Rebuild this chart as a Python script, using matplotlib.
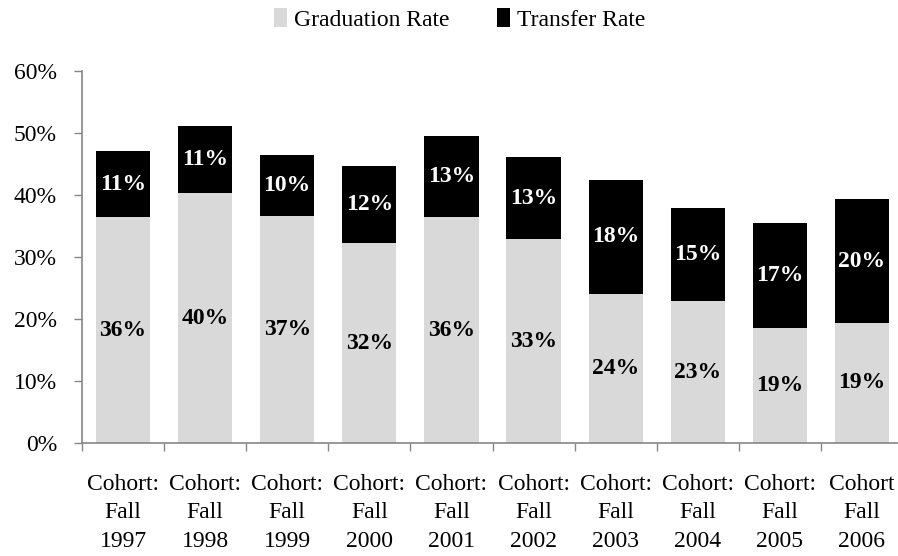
import matplotlib.pyplot as plt

cohorts = ["Cohort:\nFall\n1997", "Cohort:\nFall\n1998", "Cohort:\nFall\n1999",
           "Cohort:\nFall\n2000", "Cohort:\nFall\n2001", "Cohort:\nFall\n2002",
           "Cohort:\nFall\n2003", "Cohort:\nFall\n2004", "Cohort:\nFall\n2005",
           "Cohort\nFall\n2006"]
graduation = [36.4, 40.3, 36.6, 32.3, 36.4, 32.9, 24.1, 22.9, 18.6, 19.4]
transfer = [10.7, 10.9, 9.8, 12.4, 13.1, 13.2, 18.4, 15.1, 16.9, 19.9]
yticks = [0, 10, 20, 30, 40, 50, 60]

plt.rcParams["font.family"] = ["Liberation Serif", "DejaVu Serif"]
axis_grey = "#868686"

fig = plt.figure(figsize=(8.98, 5.56), dpi=100)
ax = fig.add_axes([0.0913, 0.203, 0.9143, 0.669])

x = list(range(len(cohorts)))
b1 = ax.bar(x, graduation, width=0.66, color="#d9d9d9", label="Graduation Rate")
b2 = ax.bar(x, transfer, width=0.66, bottom=graduation, color="black",
            label="Transfer Rate")

ax.bar_label(b1, labels=[f"{v:.0f}%" for v in graduation], label_type="center",
             fontsize=17, fontweight="bold", color="black")
ax.bar_label(b2, labels=[f"{v:.0f}%" for v in transfer], label_type="center",
             fontsize=17, fontweight="bold", color="white")

ax.set_xlim(-0.5, len(cohorts) - 0.5)
ax.set_ylim(0, 60)
ax.set_yticks(yticks)
ax.set_yticklabels([f"{t}%" for t in yticks], fontsize=17)

# ticks at category boundaries, labels at centres
ax.set_xticks([i - 0.5 for i in range(len(cohorts) + 1)])
ax.set_xticklabels([])
ax.set_xticks(x, minor=True)
ax.set_xticklabels(cohorts, minor=True, fontsize=17, linespacing=1.48)
ax.tick_params(axis="x", which="minor", length=0, pad=22)
ax.tick_params(axis="x", which="major", length=6, width=1, color=axis_grey, direction="out")
ax.tick_params(axis="y", length=6, width=1, color=axis_grey, pad=12)

for s in ["top", "right"]:
    ax.spines[s].set_visible(False)
for s in ["left", "bottom"]:
    ax.spines[s].set_color(axis_grey)
    ax.spines[s].set_linewidth(1.2)

fig.legend(loc="center", bbox_to_anchor=(0.512, 0.965), ncol=2, frameon=False,
           fontsize=17, handlelength=0.55, handleheight=0.85, handletextpad=0.3,
           columnspacing=2.0)

fig.savefig("out.png", dpi=100)
